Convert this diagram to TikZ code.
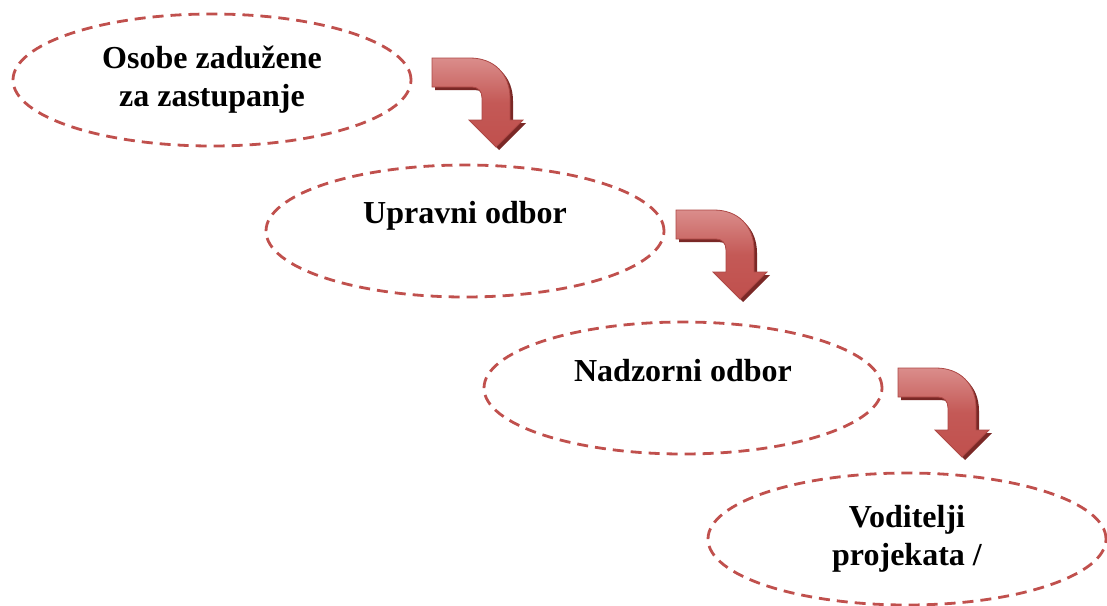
\documentclass[tikz,border=0pt]{standalone}
\usepackage{fontspec}
\setmainfont{Liberation Serif}
\usetikzlibrary{shapes.geometric}

\definecolor{accentred}{HTML}{C0504D}
\definecolor{arrowlight}{HTML}{DA8D8B}
\definecolor{arrowdark}{HTML}{7A2826}

\newcommand{\bentshape}{(0,0) -- (38,0) .. controls (62,0) and (78,16) .. (78,40) -- (78,62) -- (91,62) -- (64,89) -- (37,62) -- (50,62) -- (50,40) .. controls (50,33) and (46,29) .. (40,29) -- (0,29) -- cycle}

\tikzset{
  oval/.style={ellipse, draw=accentred, line width=2.8pt, dash pattern=on 11pt off 7pt,
    minimum width=398pt, minimum height=132pt, inner sep=0pt, align=center,
    font=\fontsize{32}{38}\selectfont\bfseries},
  bentarrow/.pic={
    \fill[arrowdark, shift={(3,3)}] \bentshape;
    \shade[top color=arrowlight, bottom color=accentred, middle color=accentred!85!arrowlight, draw=accentred!90!black, line width=0.8pt] \bentshape;
  }
}

\begin{document}
\begin{tikzpicture}[x=1pt, y=-1pt]
\useasboundingbox (0,0) rectangle (1107,605);

\node[oval] (osobe) at (212,80) {Osobe zadužene\\za zastupanje};
\node[oval, text depth=37pt] (upravni) at (465,231) {Upravni odbor};
\node[oval, text depth=36pt] (nadzorni) at (683,388) {Nadzorni odbor};
\node[oval] (voditelji) at (907,539) {Voditelji\\projekata /};

\coordinate (a1) at (432,58);
\coordinate (a2) at (676,210);
\coordinate (a3) at (898,368);
\pic at (a1) {bentarrow};
\pic at (a2) {bentarrow};
\pic at (a3) {bentarrow};
\end{tikzpicture}
\end{document}
